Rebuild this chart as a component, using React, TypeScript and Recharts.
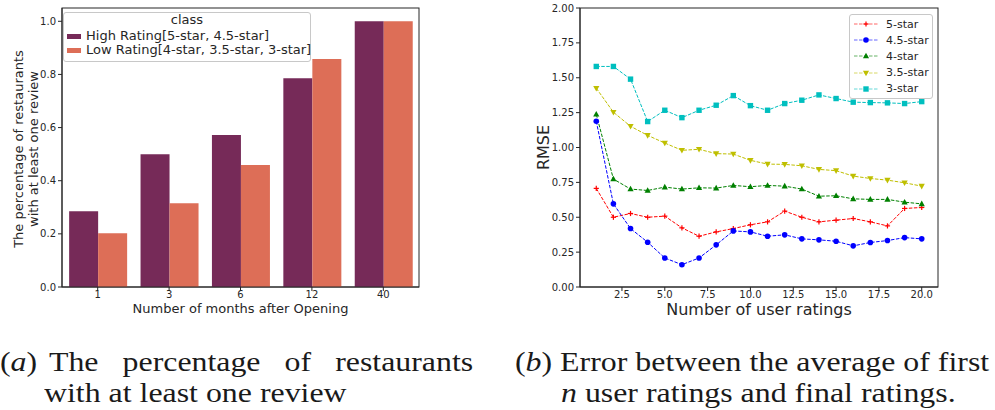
import React from "react";
import {
  BarChart,
  Bar,
  LineChart,
  Line,
  XAxis,
  YAxis,
  Legend,
  Label,
  usePlotArea
} from "recharts";

// (a) share of restaurants with at least one review
const monthCategories = ["1", "3", "6", "12", "40"];
const highRatingShare = [0.285, 0.5, 0.572, 0.786, 1.0];
const lowRatingShare = [0.202, 0.315, 0.459, 0.858, 1.0];
const shareTicks = [0, 0.2, 0.4, 0.6, 0.8, 1.0];

// (b) RMSE vs number of user ratings
const userRatingCounts = [1, 2, 3, 4, 5, 6, 7, 8, 9, 10, 11, 12, 13, 14, 15, 16, 17, 18, 19, 20];
const rmse5Star = [0.707, 0.5, 0.527, 0.5, 0.508, 0.424, 0.364, 0.395, 0.419, 0.446, 0.467, 0.544, 0.5, 0.467, 0.479, 0.491, 0.467, 0.438, 0.563, 0.57];
const rmse45Star = [1.188, 0.596, 0.419, 0.321, 0.208, 0.16, 0.208, 0.302, 0.402, 0.395, 0.364, 0.374, 0.345, 0.338, 0.328, 0.295, 0.319, 0.333, 0.354, 0.345];
const rmse4Star = [1.238, 0.774, 0.702, 0.692, 0.716, 0.702, 0.711, 0.709, 0.728, 0.719, 0.728, 0.723, 0.702, 0.651, 0.654, 0.632, 0.628, 0.628, 0.608, 0.596];
const rmse35Star = [1.425, 1.253, 1.152, 1.087, 1.032, 0.98, 0.987, 0.956, 0.953, 0.908, 0.881, 0.879, 0.869, 0.843, 0.834, 0.795, 0.778, 0.766, 0.747, 0.723];
const rmse3Star = [1.581, 1.581, 1.49, 1.186, 1.267, 1.214, 1.267, 1.303, 1.372, 1.3, 1.267, 1.315, 1.339, 1.377, 1.351, 1.325, 1.322, 1.32, 1.315, 1.329];
const rmseTicks = [0, 0.25, 0.5, 0.75, 1.0, 1.25, 1.5, 1.75, 2.0];
const ratingTicks = [2.5, 5, 7.5, 10, 12.5, 15, 17.5, 20];

const HIGH_COLOR = "#762a58";
const LOW_COLOR = "#dd6e57";
const AXIS = "#262626";
const SANS = "DejaVu Sans, sans-serif";
const SERIF = "Liberation Serif, serif";

const barData = monthCategories.map((m, i) => ({
  month: m,
  high: highRatingShare[i],
  low: lowRatingShare[i]
}));

const lineData = userRatingCounts.map((n, i) => ({
  n,
  s5: rmse5Star[i],
  s45: rmse45Star[i],
  s4: rmse4Star[i],
  s35: rmse35Star[i],
  s3: rmse3Star[i]
}));

type MarkerKind = "plus" | "circle" | "up" | "down" | "square";

const lineSeries: { key: string; name: string; color: string; marker: MarkerKind }[] = [
  { key: "s5", name: "5-star", color: "#ff0000", marker: "plus" },
  { key: "s45", name: "4.5-star", color: "#0000ff", marker: "circle" },
  { key: "s4", name: "4-star", color: "#008000", marker: "up" },
  { key: "s35", name: "3.5-star", color: "#bfbf00", marker: "down" },
  { key: "s3", name: "3-star", color: "#00bfbf", marker: "square" }
];

function Marker({ kind, cx, cy, color }: { kind: MarkerKind; cx: number; cy: number; color: string }) {
  if (kind === "plus") {
    return (
      <g stroke={color} strokeWidth={1.2}>
        <line x1={cx - 2.6} y1={cy} x2={cx + 2.6} y2={cy} />
        <line x1={cx} y1={cy - 2.6} x2={cx} y2={cy + 2.6} />
      </g>
    );
  }
  if (kind === "circle") return <circle cx={cx} cy={cy} r={2.8} fill={color} />;
  if (kind === "up")
    return <polygon points={`${cx},${cy - 3.3} ${cx - 3.1},${cy + 2.3} ${cx + 3.1},${cy + 2.3}`} fill={color} />;
  if (kind === "down")
    return <polygon points={`${cx},${cy + 3.3} ${cx - 3.1},${cy - 2.3} ${cx + 3.1},${cy - 2.3}`} fill={color} />;
  return <rect x={cx - 2.7} y={cy - 2.7} width={5.4} height={5.4} fill={color} />;
}

// full box around the plot area, like matplotlib spines
function PlotFrame() {
  const area = usePlotArea();
  if (!area) return null;
  return (
    <rect x={area.x} y={area.y} width={area.width} height={area.height} fill="none" stroke={AXIS} strokeWidth={1} />
  );
}

const BarLegend = () => (
  <div
    style={{
      width: 246,
      height: 48,
      border: "1px solid #c8c8c8",
      borderRadius: 3,
      background: "rgba(255,255,255,0.85)",
      fontFamily: SANS,
      fontSize: 13,
      lineHeight: "15px",
      color: AXIS,
      position: "relative"
    }}
  >
    <div style={{ position: "absolute", top: -1, left: 0, width: "100%", textAlign: "center" }}>class</div>
    {[
      { label: "High Rating[5-star, 4.5-star]", color: HIGH_COLOR, top: 15 },
      { label: "Low Rating[4-star, 3.5-star, 3-star]", color: LOW_COLOR, top: 29 }
    ].map((row) => (
      <div key={row.label} style={{ position: "absolute", top: row.top, left: 3, whiteSpace: "nowrap" }}>
        <span
          style={{ display: "inline-block", width: 14, height: 5, background: row.color, marginRight: 5, verticalAlign: 1 }}
        />
        {row.label}
      </div>
    ))}
  </div>
);

const LineLegend = () => (
  <div
    style={{
      width: 82,
      height: 83,
      border: "1px solid #c8c8c8",
      borderRadius: 3,
      background: "rgba(255,255,255,0.85)",
      fontFamily: SANS,
      fontSize: 11,
      color: AXIS,
      position: "relative",
      boxSizing: "content-box"
    }}
  >
    {lineSeries.map((s, i) => (
      <div key={s.key} style={{ position: "absolute", left: 3, top: 2 + i * 16.2, height: 14, display: "flex", alignItems: "center" }}>
        <svg width={26} height={14} style={{ display: "block" }}>
          <line x1={1} y1={7} x2={25} y2={7} stroke={s.color} strokeWidth={1} strokeDasharray="3.5 1.5" strokeOpacity={0.6} />
          <Marker kind={s.marker} cx={13} cy={7} color={s.color} />
        </svg>
        <span style={{ marginLeft: 7, whiteSpace: "nowrap" }}>{s.name}</span>
      </div>
    ))}
  </div>
);

// LaTeX-style captions: a narrow serif widened to the Computer Modern footprint
const captionStyle: React.CSSProperties = {
  position: "absolute",
  fontFamily: SERIF,
  fontSize: 27,
  lineHeight: "30px",
  color: "#1a1a1a",
  whiteSpace: "nowrap",
  transform: "scaleX(1.18)",
  transformOrigin: "0 0"
};

export default function App() {
  return (
    <div style={{ position: "absolute", left: 0, top: 0, width: 995, height: 410, background: "#fff" }}>
      {/* (a) bar chart */}
      <div style={{ position: "absolute", left: 0, top: 0 }}>
        <BarChart
          width={430}
          height={320}
          data={barData}
          margin={{ top: 8, right: 11, left: 22, bottom: 0 }}
          barCategoryGap="10%"
          barGap={0}
        >
          <XAxis
            dataKey="month"
            height={33}
            stroke={AXIS}
            tickSize={4}
            tickMargin={0}
            tick={{ fontSize: 10, fontFamily: SANS, fill: AXIS }}
          >
            <Label
              content={(p: any) => {
                const vb = p.viewBox || { x: 62, y: 287, width: 357 };
                return (
                  <text x={vb.x + vb.width / 2} y={vb.y + 25.5} textAnchor="middle" fontSize={13} fontFamily={SANS} fill={AXIS}>
                    Number of months after Opening
                  </text>
                );
              }}
            />
          </XAxis>
          <YAxis
            width={40}
            domain={[0, 1.05]}
            ticks={shareTicks}
            stroke={AXIS}
            tickSize={4}
            tickFormatter={(v: number) => v.toFixed(1)}
            tick={{ fontSize: 10, fontFamily: SANS, fill: AXIS }}
            allowDataOverflow
          >
            <Label
              content={(p: any) => {
                const vb = p.viewBox || { x: 22, y: 8, height: 279 };
                const cy = vb.y + vb.height / 2 + 1.5;
                return (
                  <g fontSize={13} fontFamily={SANS} fill={AXIS} textAnchor="middle">
                    <text transform={`translate(22.5,${cy}) rotate(-90)`}>The percentage of restaurants</text>
                    <text transform={`translate(38,${cy}) rotate(-90)`}>with at least one review</text>
                  </g>
                );
              }}
            />
          </YAxis>
          <Legend
            layout="vertical"
            align="center"
            verticalAlign="middle"
            content={() => <BarLegend />}
            wrapperStyle={{ left: 63, top: 12, width: 248, height: 50 }}
          />
          <Bar dataKey="high" name="High Rating[5-star, 4.5-star]" fill={HIGH_COLOR} isAnimationActive={false} />
          <Bar dataKey="low" name="Low Rating[4-star, 3.5-star, 3-star]" fill={LOW_COLOR} isAnimationActive={false} />
          <PlotFrame />
        </BarChart>
      </div>

      {/* (b) line chart */}
      <div style={{ position: "absolute", left: 520, top: 0 }}>
        <LineChart width={470} height={320} data={lineData} margin={{ top: 8, right: 52, left: 20, bottom: 0 }}>
          <XAxis
            dataKey="n"
            type="number"
            domain={[0.05, 20.95]}
            ticks={ratingTicks}
            allowDataOverflow
            height={33}
            stroke={AXIS}
            tickSize={4}
            tickMargin={0}
            tickFormatter={(v: number) => v.toFixed(1)}
            tick={{ fontSize: 10, fontFamily: SANS, fill: AXIS }}
          >
            <Label
              content={(p: any) => {
                const vb = p.viewBox || { x: 60, y: 287, width: 358 };
                return (
                  <text x={vb.x + vb.width / 2} y={vb.y + 28} textAnchor="middle" fontSize={16} fontFamily={SANS} fill={AXIS}>
                    Number of user ratings
                  </text>
                );
              }}
            />
          </XAxis>
          <YAxis
            width={40}
            domain={[0, 2]}
            ticks={rmseTicks}
            stroke={AXIS}
            tickSize={4}
            tickFormatter={(v: number) => v.toFixed(2)}
            tick={{ fontSize: 10, fontFamily: SANS, fill: AXIS }}
            allowDataOverflow
          >
            <Label
              content={(p: any) => {
                const vb = p.viewBox || { x: 20, y: 8, height: 279 };
                const cy = vb.y + vb.height / 2;
                return (
                  <text transform={`translate(29,${cy}) rotate(-90)`} textAnchor="middle" fontSize={16} fontFamily={SANS} fill={AXIS}>
                    RMSE
                  </text>
                );
              }}
            />
          </YAxis>
          <Legend
            layout="vertical"
            align="center"
            verticalAlign="middle"
            content={() => <LineLegend />}
            wrapperStyle={{ left: 329, top: 14, width: 84, height: 85 }}
          />
          {lineSeries.map((s) => (
            <Line
              key={s.key}
              dataKey={s.key}
              name={s.name}
              type="linear"
              stroke={s.color}
              strokeWidth={1}
              strokeDasharray="3.5 1.5"
              isAnimationActive={false}
              dot={(p: any) => (
                <g key={`${s.key}-${p.index}`}>
                  <Marker kind={s.marker} cx={p.cx} cy={p.cy} color={s.color} />
                </g>
              )}
              activeDot={false}
            />
          ))}
          <PlotFrame />
        </LineChart>
      </div>

      {/* captions */}
      <div style={{ ...captionStyle, left: 0, top: 347, width: 401, display: "flex" }}>
        <span>
          (<i>a</i>)
        </span>
        <span style={{ flex: 1, marginLeft: 10, display: "flex", justifyContent: "space-between" }}>
          <span>The</span>
          <span>percentage</span>
          <span>of</span>
          <span>restaurants</span>
        </span>
      </div>
      <div style={{ ...captionStyle, left: 44, top: 378 }}>with at least one review</div>
      <div style={{ ...captionStyle, left: 515, top: 347 }}>
        (<i>b</i>) Error between the average of first
      </div>
      <div style={{ ...captionStyle, left: 561, top: 378 }}>
        <i>n</i> user ratings and final ratings.
      </div>
    </div>
  );
}
